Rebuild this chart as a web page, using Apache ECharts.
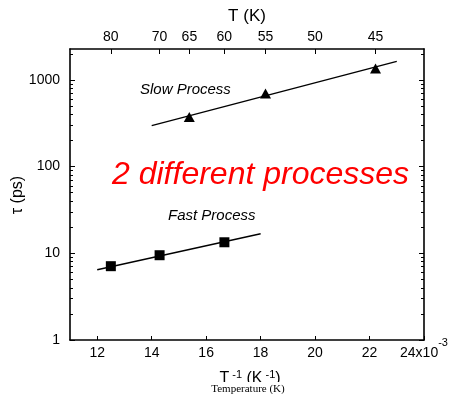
<!DOCTYPE html>
<html>
<head>
<meta charset="utf-8">
<script src="https://cdn.jsdelivr.net/npm/echarts@6/dist/echarts.min.js"></script>
<style>
  html, body { margin: 0; padding: 0; background: #fff; }
  #chart { width: 450px; height: 394px; }
</style>
</head>
<body>
<div id="chart"></div>
<script>
// Inverse temperature (units of 1e-3 K^-1) and relaxation times (ps)
const slowInvT = [15.38, 18.18, 22.22];
const slowTau = [373, 695, 1349];
const slowFitInvT = [14.0, 23.0];
const slowFitTau = [297, 1637];

const fastInvT = [12.5, 14.29, 16.67];
const fastTau = [7.1, 9.5, 13.4];
const fastFitInvT = [12.0, 18.0];
const fastFitTau = [6.46, 16.8];

// Tick labels
const bottomTicks = [12, 14, 16, 18, 20, 22, 24];
const topTemps = [80, 70, 65, 60, 55, 50, 45];
const yMajor = [1, 10, 100, 1000];
const yMinor = [];
for (let d = 1; d <= 1000; d *= 10) {
  for (let k = 2; k <= 9; k++) {
    if (k * d <= 2270) yMinor.push(k * d);
  }
}

const pairs = (xs, ys) => xs.map((x, i) => [x, ys[i]]);
const topTickVals = topTemps.map(t => 1000 / t);

const FONT = 'Liberation Sans, Arial, sans-serif';
const Y_MIN = 1, Y_MAX = 2270;
const lineStyle = { color: '#000', width: 1.6 };

const chart = echarts.init(document.getElementById('chart'), null, { renderer: 'canvas' });

function yAxisDef(position, values, len, showLabel, showLine) {
  return {
    type: 'log', logBase: 10, min: Y_MIN, max: Y_MAX, position: position,
    axisLine: { show: showLine, lineStyle: lineStyle },
    axisTick: { show: true, inside: true, length: len, customValues: values, lineStyle: { color: '#000', width: 1 } },
    axisLabel: showLabel ? {
      show: true, customValues: yMajor, fontFamily: FONT, fontSize: 14, color: '#000', margin: 10,
      formatter: v => String(Math.round(v))
    } : { show: false },
    splitLine: { show: false },
    minorTick: { show: false }
  };
}

const yAxes = [
  yAxisDef('left', yMajor, 5, true, true),
  yAxisDef('left', yMinor, 3, false, false),
  yAxisDef('right', yMajor, 5, false, true),
  yAxisDef('right', yMinor, 3, false, false)
];

chart.setOption({
  animation: false,
  backgroundColor: '#fff',
  grid: { left: 70, right: 26, top: 49, bottom: 54, containLabel: false, outerBoundsMode: 'none' },
  xAxis: [
    {
      type: 'value', min: 11, max: 24, position: 'bottom',
      axisLine: { show: true, lineStyle: lineStyle, onZero: false },
      axisTick: { show: true, inside: true, length: 4, customValues: bottomTicks, lineStyle: { color: '#000', width: 1 } },
      axisLabel: {
        customValues: bottomTicks, fontFamily: FONT, fontSize: 14, color: '#000', margin: 0,
        formatter: v => v === 24 ? '{n|24x10}{sup|-3}' : '{n|' + v + '}',
        rich: {
          n: { fontFamily: FONT, fontSize: 14, color: '#000', lineHeight: 16, padding: [10, 0, 0, 0] },
          sup: { fontFamily: FONT, fontSize: 11, color: '#000', lineHeight: 16, padding: [0, 0, 10, 0] }
        }
      },
      splitLine: { show: false }
    },
    {
      type: 'value', min: 11, max: 24, position: 'top',
      name: 'T (K)', nameLocation: 'middle', nameGap: 20,
      nameTextStyle: { fontFamily: FONT, fontSize: 17, color: '#000' },
      axisLine: { show: true, lineStyle: lineStyle, onZero: false },
      axisTick: { show: true, inside: true, length: 5, customValues: topTickVals, lineStyle: { color: '#000', width: 1 } },
      axisLabel: {
        customValues: topTickVals, fontFamily: FONT, fontSize: 14, color: '#000', margin: 5,
        formatter: v => String(Math.round(1000 / v))
      },
      splitLine: { show: false }
    }
  ],
  yAxis: yAxes,
  series: [
    {
      type: 'line', data: pairs(slowFitInvT, slowFitTau), symbol: 'none',
      lineStyle: { color: '#000', width: 1.3 }, silent: true
    },
    {
      type: 'line', data: pairs(fastFitInvT, fastFitTau), symbol: 'none',
      lineStyle: { color: '#000', width: 1.3 }, silent: true
    },
    {
      type: 'scatter', data: pairs(slowInvT, slowTau), symbol: 'triangle', symbolSize: [11, 10],
      itemStyle: { color: '#000', opacity: 1 }
    },
    {
      type: 'scatter', data: pairs(fastInvT, fastTau), symbol: 'rect', symbolSize: 10,
      itemStyle: { color: '#000', opacity: 1 }
    }
  ],
  graphic: [
    {
      // left axis title, rotated to read bottom-to-top
      type: 'text', x: 18, y: 195, rotation: Math.PI / 2,
      style: {
        text: 'τ (ps)', font: '16px ' + FONT, fill: '#000',
        align: 'center', verticalAlign: 'middle'
      }
    },
    {
      type: 'text', left: 140, top: 82,
      style: { text: 'Slow Process', font: 'italic 15px ' + FONT, fill: '#000' }
    },
    {
      type: 'text', left: 168, top: 208,
      style: { text: 'Fast Process', font: 'italic 15px ' + FONT, fill: '#000' }
    },
    {
      type: 'text', left: 112, top: 159,
      style: { text: '2 different processes', font: 'italic 32px ' + FONT, fill: '#ff0000' }
    },
    {
      type: 'text', x: 250, y: 369,
      style: {
        text: 'T{s| -1} (K{s| -1})', fill: '#000', align: 'center', verticalAlign: 'top',
        font: '16px ' + FONT,
        rich: { s: { font: '11px ' + FONT, fill: '#000', verticalAlign: 'top', padding: [0, 0, 8, 0] } }
      }
    },
    {
      type: 'rect', shape: { x: 180, y: 382, width: 140, height: 12 },
      style: { fill: '#fff' }
    },
    {
      type: 'text', x: 248, y: 384,
      style: {
        text: 'Temperature (K)', fill: '#000', align: 'center', verticalAlign: 'top',
        font: '11px Liberation Serif, Times New Roman, serif'
      }
    }
  ]
});
</script>
</body>
</html>
